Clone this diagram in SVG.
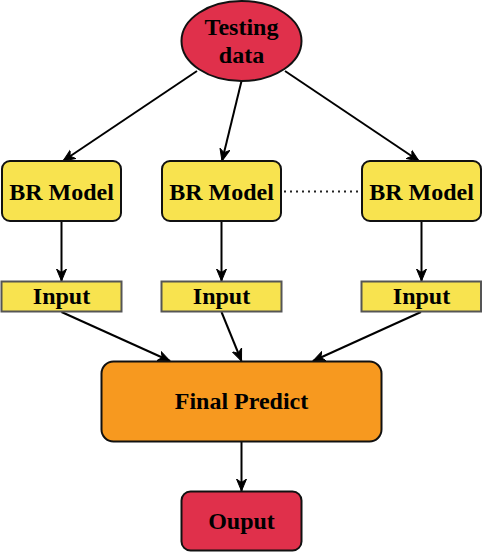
<svg xmlns="http://www.w3.org/2000/svg" width="482" height="552" viewBox="0 0 482 552">
<defs>
<style>
text{font-family:"Liberation Serif","Times New Roman",serif;font-weight:bold;font-size:24px;fill:#000;text-anchor:middle}
.red{fill:#E0304B;stroke:#111;stroke-width:2}
.yel{fill:#F8E34F;stroke:#111;stroke-width:2}
.inp{fill:#F8E34F;stroke:#555;stroke-width:2}
.org{fill:#F7991F;stroke:#111;stroke-width:2}
.c{stroke:#000;stroke-width:2;fill:none}
.dot{stroke:#222;stroke-width:2;stroke-dasharray:2 4;fill:none}
</style>
<marker id="arr" markerUnits="userSpaceOnUse" markerWidth="14" markerHeight="12" refX="12" refY="6" orient="auto" viewBox="0 0 14 12">
<path d="M0,1 L12,6 L0,11 L3.5,6 Z" fill="#000" stroke="#000" stroke-width="1"/>
</marker>
</defs>
<g id="connectors">
<line class="c" x1="197" y1="71" x2="63" y2="161" marker-end="url(#arr)"/>
<line class="c" x1="241.5" y1="81" x2="222" y2="161" marker-end="url(#arr)"/>
<line class="c" x1="285" y1="71" x2="419" y2="161" marker-end="url(#arr)"/>
<line class="dot" x1="284" y1="191.5" x2="361" y2="191.5"/>
<line class="c" x1="61.5" y1="221" x2="61.5" y2="281" marker-end="url(#arr)"/>
<line class="c" x1="221.5" y1="221" x2="221.5" y2="281" marker-end="url(#arr)"/>
<line class="c" x1="421.5" y1="221" x2="421.5" y2="281" marker-end="url(#arr)"/>
<line class="c" x1="61.5" y1="312" x2="170" y2="361" marker-end="url(#arr)"/>
<line class="c" x1="221.5" y1="312" x2="241.5" y2="361" marker-end="url(#arr)"/>
<line class="c" x1="421" y1="312" x2="313" y2="361" marker-end="url(#arr)"/>
<line class="c" x1="241.5" y1="442" x2="241.5" y2="491" marker-end="url(#arr)"/>
</g>
<g id="testing-data">
<ellipse class="red" cx="241.5" cy="41" rx="60" ry="40"/>
<text x="241.5" y="35">Testing</text>
<text x="241.5" y="63">data</text>
</g>
<g id="br-model-1">
<rect class="yel" x="2" y="161" width="119" height="60" rx="8"/>
<text x="61.5" y="199.5">BR Model</text>
</g>
<g id="br-model-2">
<rect class="yel" x="162" y="161" width="119" height="60" rx="8"/>
<text x="221.5" y="199.5">BR Model</text>
</g>
<g id="br-model-3">
<rect class="yel" x="362" y="161" width="119" height="60" rx="8"/>
<text x="421.5" y="199.5">BR Model</text>
</g>
<g id="input-1">
<rect class="inp" x="1.5" y="281.5" width="120" height="30"/>
<text x="61.5" y="304">Input</text>
</g>
<g id="input-2">
<rect class="inp" x="161.5" y="281.5" width="120" height="30"/>
<text x="221.5" y="304">Input</text>
</g>
<g id="input-3">
<rect class="inp" x="361.5" y="281.5" width="119.5" height="30"/>
<text x="421.5" y="304">Input</text>
</g>
<g id="final-predict">
<rect class="org" x="101.5" y="361.5" width="280" height="80" rx="12"/>
<text x="241.5" y="409">Final Predict</text>
</g>
<g id="output">
<rect class="red" x="181.5" y="491.5" width="120" height="59" rx="9"/>
<text x="241.5" y="529">Ouput</text>
</g>
</svg>
